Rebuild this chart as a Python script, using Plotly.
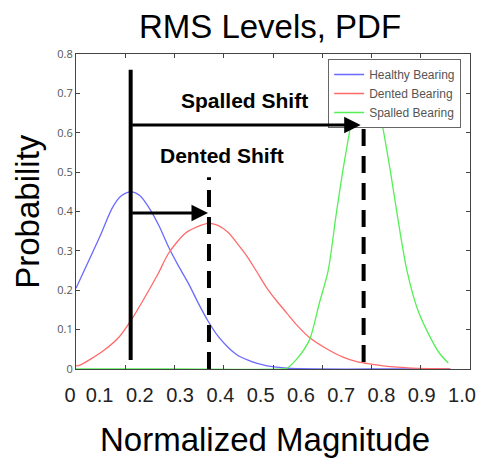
import plotly.graph_objects as go

# ---------------- data (MATLAB axis units) ----------------
healthy_x = [0.0, 0.048, 0.074, 0.092, 0.112, 0.13, 0.148, 0.168, 0.188, 0.208, 0.228,
             0.248, 0.268, 0.288, 0.308, 0.328, 0.348, 0.368, 0.388, 0.428, 0.488, 0.6, 0.76]
healthy_y = [0.205, 0.335, 0.41, 0.44, 0.45, 0.44, 0.41, 0.365, 0.31, 0.262, 0.218,
             0.168, 0.122, 0.084, 0.056, 0.035, 0.023, 0.014, 0.008, 0.002, 0.0, 0.0, 0.0]

dented_x = [0.0, 0.008, 0.054, 0.088, 0.112, 0.148, 0.168, 0.188, 0.222, 0.248, 0.268,
            0.288, 0.308, 0.328, 0.348, 0.368, 0.388, 0.408, 0.428, 0.448, 0.474, 0.508,
            0.542, 0.572, 0.602, 0.638, 0.674, 0.718, 0.76]
dented_y = [0.008, 0.01, 0.045, 0.082, 0.124, 0.2, 0.245, 0.294, 0.345, 0.362, 0.37,
            0.365, 0.348, 0.318, 0.285, 0.245, 0.205, 0.172, 0.142, 0.112, 0.08, 0.052,
            0.03, 0.018, 0.012, 0.006, 0.003, 0.001, 0.0]

spalled_x = [0.0, 0.2, 0.42, 0.428, 0.448, 0.474, 0.494, 0.512, 0.528, 0.542, 0.562,
             0.578, 0.59, 0.602, 0.618, 0.638, 0.654, 0.672, 0.694, 0.722, 0.738, 0.756]
spalled_y = [0.0, 0.0, 0.0, 0.002, 0.025, 0.074, 0.167, 0.25, 0.39, 0.505, 0.645,
             0.72, 0.75, 0.72, 0.645, 0.505, 0.378, 0.25, 0.15, 0.074, 0.04, 0.015]

series_names = ["Healthy Bearing", "Dented Bearing", "Spalled Bearing"]
series_colors = ["#6a6aff", "#ff6a6a", "#55f055"]

baseline_x = 0.111
baseline_y = [0.023, 0.76]
dented_shift_x = 0.27
dented_shift_y = [0.0, 0.487]
spalled_shift_x = 0.584
spalled_shift_y = [0.018, 0.65]
dented_arrow_y = 0.396
spalled_arrow_y = 0.62
dented_label = ("Dented Shift", 0.296, 0.541)
spalled_label = ("Spalled Shift", 0.342, 0.683)

y_ticks = [0, 0.1, 0.2, 0.3, 0.4, 0.5, 0.6, 0.7, 0.8]
x_label_text = ["0", "0.1", "0.2", "0.3", "0.4", "0.5", "0.6", "0.7", "0.8", "0.9", "1.0"]
x_label_vals = [0.0266, 0.1, 0.2, 0.3, 0.4, 0.5, 0.6, 0.7, 0.8, 0.9, 1.0]

FONT = "Arial"

fig = go.Figure()
for xs, ys, name, col in zip([healthy_x, dented_x, spalled_x],
                             [healthy_y, dented_y, spalled_y],
                             series_names, series_colors):
    fig.add_trace(go.Scatter(x=xs, y=ys, name=name, mode="lines",
                             line=dict(color=col, width=1.3, shape="spline", smoothing=0.8)))

fig.add_trace(go.Scatter(x=[baseline_x, baseline_x], y=baseline_y, mode="lines",
                         line=dict(color="black", width=4), showlegend=False))
fig.add_trace(go.Scatter(x=[dented_shift_x, dented_shift_x], y=dented_shift_y, mode="lines",
                         line=dict(color="black", width=4, dash="17px,10px"), showlegend=False))
fig.add_trace(go.Scatter(x=[spalled_shift_x, spalled_shift_x], y=spalled_shift_y, mode="lines",
                         line=dict(color="black", width=4, dash="17px,10px"), showlegend=False))
# invisible trace that carries the overlay label axis
fig.add_trace(go.Scatter(x=x_label_vals, y=[0] * len(x_label_vals), xaxis="x2",
                         mode="markers", marker=dict(opacity=0, size=1),
                         showlegend=False, hoverinfo="skip"))

for tip_x, yv in [(dented_shift_x - 0.002, dented_arrow_y), (spalled_shift_x - 0.006, spalled_arrow_y)]:
    fig.add_annotation(x=tip_x, y=yv, ax=baseline_x, ay=yv, xref="x", yref="y",
                       axref="x", ayref="y", text="", showarrow=True,
                       arrowhead=2, arrowsize=1.1, arrowwidth=3, arrowcolor="black", standoff=0)

for txt, tx, ty in [dented_label, spalled_label]:
    fig.add_annotation(x=tx, y=ty, xref="x", yref="y", text="<b>%s</b>" % txt, showarrow=False,
                       font=dict(family=FONT, size=21, color="black"))

W, H = 485, 458
L, R, T, B = 76, 9, 54, 89
pw = W - L - R
ph = H - T - B

# axis titles
fig.add_annotation(x=(26 - L) / pw, y=(H - B - 211) / ph, xref="paper", yref="paper",
                   xanchor="center", yanchor="middle",
                   text="Probability", textangle=-90, showarrow=False,
                   font=dict(family=FONT, size=33, color="black"))
fig.add_annotation(x=(268 - L) / pw, y=(H - B - 439) / ph, xref="paper", yref="paper",
                   xanchor="center", yanchor="middle",
                   text="Normalized Magnitude", showarrow=False,
                   font=dict(family=FONT, size=33, color="black"))

px_per_unit = 408.9
label_shift = 7  # labels drawn 7px left of their tick position
x2_lo = 0.1 - (100 + label_shift - L) / px_per_unit
x2_hi = 0.1 + (W - R - 100 - label_shift) / px_per_unit

fig.update_layout(
    width=W, height=H,
    margin=dict(l=L, r=R, t=T, b=B),
    paper_bgcolor="white", plot_bgcolor="white",
    title=dict(text="RMS Levels, PDF", x=270 / W, xanchor="center", y=1 - 26 / H,
               yanchor="middle", yref="container",
               font=dict(family=FONT, size=33, color="black")),
    xaxis=dict(range=[0, 0.8], dtick=0.1,
               ticks="inside", ticklen=4, tickcolor="#444", showticklabels=False,
               showline=True, linecolor="#444", linewidth=1, mirror="ticks",
               showgrid=False, zeroline=False),
    yaxis=dict(range=[0, 0.8], dtick=0.1, ticks="inside", ticklen=4, tickcolor="#444",
               showline=True, linecolor="#444", linewidth=1, mirror="ticks",
               showgrid=False, zeroline=False,
               tickfont=dict(size=11, color="#555")),
    xaxis2=dict(overlaying="x", side="bottom", range=[x2_lo, x2_hi],
                tickvals=x_label_vals, ticktext=x_label_text, ticks="",
                showline=False, showgrid=False, zeroline=False,
                ticklabelshift=-label_shift, ticklabelstandoff=12,
                tickfont=dict(family=FONT, size=20, color="#222")),
    legend=dict(x=(332 - L) / pw, y=(H - B - 59) / ph, xanchor="left", yanchor="top",
                bgcolor="white", bordercolor="#666", borderwidth=1,
                font=dict(family=FONT, size=12, color="#555")),
    showlegend=True,
)

fig.write_html("out.html")
